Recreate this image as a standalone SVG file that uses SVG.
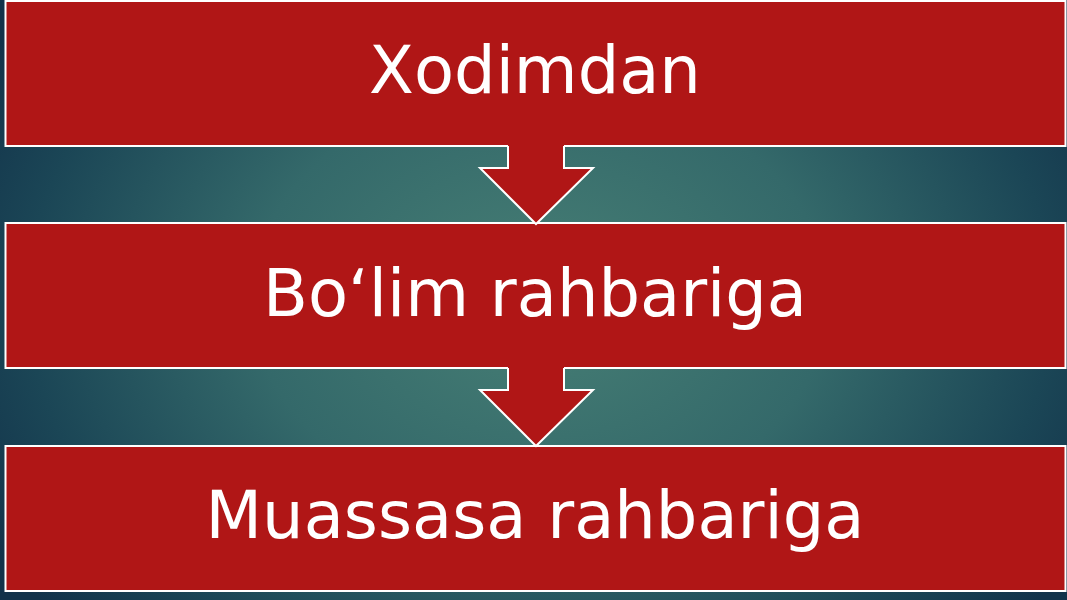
<svg xmlns="http://www.w3.org/2000/svg" width="1067" height="600" viewBox="0 0 1067 600">
<defs>
<radialGradient id="bg" cx="540" cy="300" r="640" gradientUnits="userSpaceOnUse" gradientTransform="translate(540 300) scale(1 0.75) translate(-540 -300)">
<stop offset="0" stop-color="#477f75"/>
<stop offset="0.45" stop-color="#34696a"/>
<stop offset="0.8" stop-color="#1b4656"/>
<stop offset="1" stop-color="#12324a"/>
</radialGradient>
<style>
.box{fill:#b01616;stroke:#ffffff;stroke-width:2}
.arrow{fill:#b01616;stroke:none}
.arrowline{fill:none;stroke:#ffffff;stroke-width:2;stroke-linejoin:miter}
.label{font-family:"DejaVu Sans","Verdana",sans-serif;font-size:65.5px;fill:#ffffff;text-anchor:middle}
</style>
</defs>
<rect x="0" y="0" width="1067" height="600" fill="url(#bg)"/>
<g id="node1">
<rect class="box" x="5.5" y="1" width="1060" height="145"/>
<text class="label" x="535" y="93">Xodimdan</text>
</g>
<g id="node2">
<rect class="box" x="5.5" y="223" width="1060" height="145"/>
<text class="label" x="535" y="316">Bo‘lim rahbariga</text>
</g>
<g id="node3">
<rect class="box" x="5.5" y="446" width="1060" height="145"/>
<text class="label" x="535" y="538">Muassasa rahbariga</text>
</g>
<g id="connectors">
<polygon class="arrow" points="508,145 508,168 480,168 536,224 593,168 564,168 564,145"/>
<polyline class="arrowline" points="508,146 508,168 480,168 536,224 593,168 564,168 564,146"/>
<polygon class="arrow" points="508,367 508,390 480,390 536,446 593,390 564,390 564,367"/>
<polyline class="arrowline" points="508,368 508,390 480,390 536,446 593,390 564,390 564,368"/>
</g>
</svg>
